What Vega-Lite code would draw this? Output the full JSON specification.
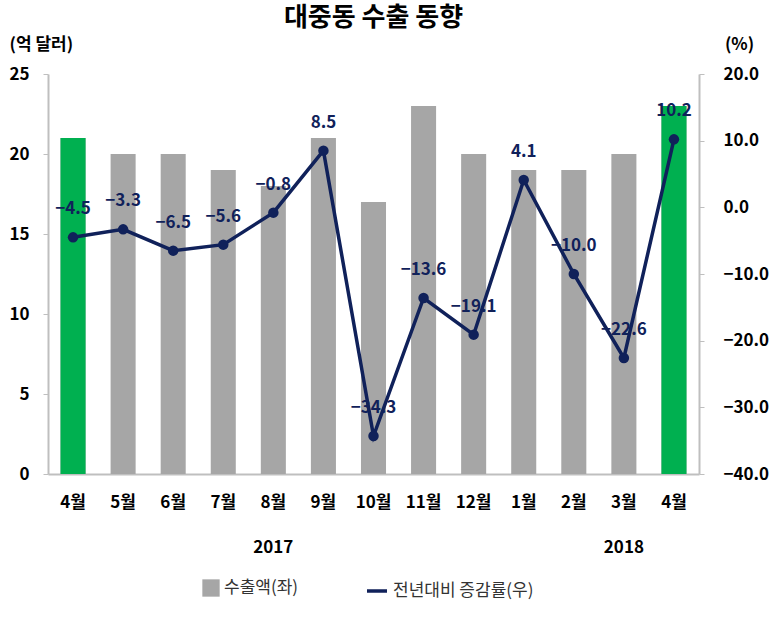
{
  "$schema": "https://vega.github.io/schema/vega-lite/v6.json",
  "width": 651,
  "height": 400,
  "padding": {"left": 8, "top": 5, "right": 5, "bottom": 5},
  "background": "white",
  "config": {"font": "Noto Sans CJK KR", "view": {"stroke": null}},
  "title": {"text": "대중동 수출 동향", "fontSize": 26, "fontWeight": "bold", "color": "#000", "anchor": "middle"},
  "data": {"values": [
    {"ym": "2017-04", "amount": 21, "growth": -4.5},
    {"ym": "2017-05", "amount": 20, "growth": -3.3},
    {"ym": "2017-06", "amount": 20, "growth": -6.5},
    {"ym": "2017-07", "amount": 19, "growth": -5.6},
    {"ym": "2017-08", "amount": 18, "growth": -0.8},
    {"ym": "2017-09", "amount": 21, "growth": 8.5},
    {"ym": "2017-10", "amount": 17, "growth": -34.3},
    {"ym": "2017-11", "amount": 23, "growth": -13.6},
    {"ym": "2017-12", "amount": 20, "growth": -19.1},
    {"ym": "2018-01", "amount": 19, "growth": 4.1},
    {"ym": "2018-02", "amount": 19, "growth": -10.0},
    {"ym": "2018-03", "amount": 20, "growth": -22.6},
    {"ym": "2018-04", "amount": 23, "growth": 10.2}
  ]},
  "resolve": {"scale": {"y": "independent"}},
  "layer": [
    {
      "mark": {"type": "bar"},
      "encoding": {
        "x": {"field": "ym", "type": "ordinal",
          "scale": {"paddingInner": 0.5, "paddingOuter": 0.25},
          "axis": {"title": null,
            "labelExpr": "datum.value == '2017-08' ? ['8월', '2017'] : datum.value == '2018-03' ? ['3월', '2018'] : toNumber(slice(datum.value,5)) + '월'",
            "labelLineHeight": 45, "ticks": false, "tickSize": 0,
            "domainColor": "#bfbfbf", "domainWidth": 2,
            "labelFontSize": 17, "labelFontWeight": "bold", "labelColor": "#000", "labelAngle": 0, "labelPadding": 20}},
        "y": {"field": "amount", "type": "quantitative",
          "scale": {"domain": [0, 25], "nice": false},
          "axis": {"values": [0, 5, 10, 15, 20, 25], "grid": false, "tickSize": 5, "tickColor": "#bfbfbf", "domainColor": "#bfbfbf", "domainWidth": 2, "labelFontSize": 17, "labelFontWeight": "bold", "labelColor": "#000", "labelPadding": 14,
            "title": "(억 달러)", "titleAngle": 0, "titleAlign": "left", "titleBaseline": "middle", "titleX": -39, "titleY": -30, "titleFontSize": 17, "titleFontWeight": "bold", "titleColor": "#000"}},
        "color": {"datum": "수출액(좌)", "scale": {"range": ["#a6a6a6"]},
          "legend": {"orient": "none", "legendX": 154, "legendY": 505, "title": null, "symbolType": "square", "symbolSize": 300, "symbolStrokeWidth": 0, "labelFontSize": 17, "labelColor": "#333"}}
      }
    },
    {
      "transform": [{"filter": "datum.ym == '2017-04' || datum.ym == '2018-04'"}],
      "mark": {"type": "bar", "color": "#00b050"},
      "encoding": {
        "x": {"field": "ym", "type": "ordinal"},
        "y": {"field": "amount", "type": "quantitative", "scale": {"domain": [0, 25], "nice": false}, "axis": null}
      }
    },
    {
      "mark": {"type": "line", "strokeWidth": 3.5},
      "encoding": {
        "x": {"field": "ym", "type": "ordinal"},
        "y": {"field": "growth", "type": "quantitative",
          "scale": {"domain": [-40, 20], "nice": false},
          "axis": {"orient": "right", "values": [-40, -30, -20, -10, 0, 10, 20], "format": ".1f", "grid": false, "tickSize": 5, "tickColor": "#bfbfbf", "domainColor": "#bfbfbf", "domainWidth": 2, "labelFontSize": 17, "labelFontWeight": "bold", "labelColor": "#000", "labelPadding": 19,
            "title": "(%)", "titleAngle": 0, "titleAlign": "center", "titleBaseline": "middle", "titleX": 40, "titleY": -30, "titleFontSize": 17, "titleFontWeight": "bold", "titleColor": "#000"}},
        "stroke": {"datum": "전년대비 증감률(우)", "scale": {"range": ["#10215a"]},
          "legend": {"orient": "none", "legendX": 317, "legendY": 505, "title": null, "symbolType": "stroke", "symbolSize": 400, "symbolStrokeWidth": 3.5, "labelFontSize": 17, "labelColor": "#333"}}
      }
    },
    {
      "mark": {"type": "point", "filled": true, "size": 110, "color": "#10215a", "opacity": 1},
      "encoding": {
        "x": {"field": "ym", "type": "ordinal"},
        "y": {"field": "growth", "type": "quantitative", "scale": {"domain": [-40, 20], "nice": false}, "axis": null}
      }
    },
    {
      "mark": {"type": "text", "dy": -28, "fontSize": 17, "fontWeight": "bold", "color": "#10215a"},
      "encoding": {
        "x": {"field": "ym", "type": "ordinal"},
        "y": {"field": "growth", "type": "quantitative", "scale": {"domain": [-40, 20], "nice": false}, "axis": null},
        "text": {"field": "growth", "type": "quantitative", "format": ".1f"}
      }
    }
  ]
}
